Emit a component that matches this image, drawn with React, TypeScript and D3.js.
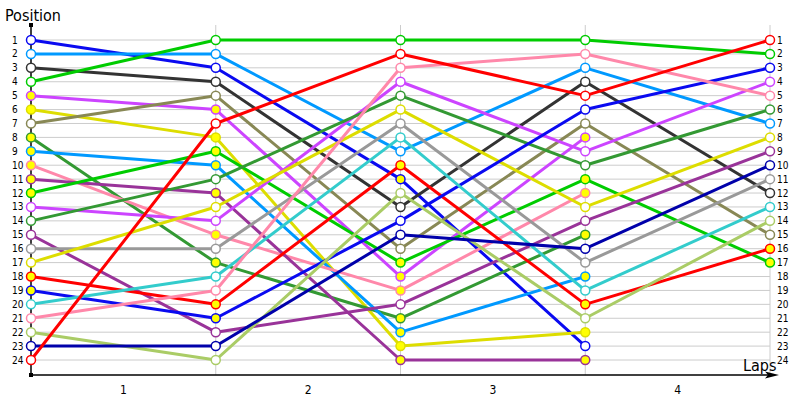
import React, { useEffect, useRef } from 'react';
import * as d3 from 'd3';

// lap labels shown between the lap lines
const lapLabels = ['1', '2', '3', '4'];
const positionTicks = [1, 2, 3, 4, 5, 6, 7, 8, 9, 10, 11, 12, 13, 14, 15, 16, 17, 18, 19, 20, 21, 22, 23, 24];

// one colour per driver, in grid order
const driverColors = [
  '#0a0af0', '#0099ff', '#333333', '#00cc00', '#cc44ff', '#dddd00',
  '#888855', '#339933', '#0099ff', '#ff88aa', '#993399', '#00cc00',
  '#cc44ff', '#339933', '#993399', '#999999', '#dddd00', '#ff0000',
  '#0a0af0', '#33cccc', '#ff88aa', '#aacc66', '#0000aa', '#ff0000',
];

// position of each driver (grid order) after every lap, null = retired
const startGrid = [1, 2, 3, 4, 5, 6, 7, 8, 9, 10, 11, 12, 13, 14, 15, 16, 17, 18, 19, 20, 21, 22, 23, 24];
const afterLap1 = [3, 2, 4, 1, 6, 8, 5, 17, 10, 15, 12, 9, 14, 11, 22, 16, 13, 20, 21, 18, 19, 24, 23, 7];
const afterLap2 = [11, 9, 13, 1, 18, 23, 16, 21, 22, 19, 24, 17, 4, 5, 20, 7, 6, 10, 14, 8, 3, 12, 15, 2];
const afterLap3 = [23, 3, 4, 1, 8, 22, 7, 15, 18, 12, 24, 11, 9, 10, 14, 17, 13, 20, 6, 19, 2, 21, 16, 5];
const afterLap4 = [null, 7, 12, 2, null, null, 15, null, null, null, null, 17, 4, 6, 9, 11, 8, 16, 3, 13, 5, 14, 10, 1];

// positions marked with a yellow (pit) marker at each lap
const pitStart = [5, 6, 8, 9, 10, 11, 12, 18, 19];
const pitLap1 = [6, 8, 9, 10, 12, 15, 17, 20, 21];
const pitLap2 = [10, 11, 17, 18, 19, 21, 22, 23, 24];
const pitLap3 = [8, 11, 12, 15, 18, 20, 22, 24];
const pitLap4 = [16, 17];

const laps = [startGrid, afterLap1, afterLap2, afterLap3, afterLap4];
const pits = [pitStart, pitLap1, pitLap2, pitLap3, pitLap4];

interface Pt {
  lap: number;
  pos: number;
}

const PositionChart: React.FC = () => {
  const svgRef = useRef<SVGSVGElement>(null);

  useEffect(() => {
    if (!svgRef.current) return;
    d3.select(svgRef.current).selectAll('*').remove();

    const svg = d3.select(svgRef.current).attr('width', 800).attr('height', 400);
    const font = '"DejaVu Sans Condensed", "DejaVu Sans", sans-serif';

    const x = d3.scaleLinear().domain([0, 4]).range([31, 770]);
    const y = d3.scaleLinear().domain([1, 24]).range([40, 360]);
    const axisTop = 25;
    const axisBottom = 375;

    // grid
    svg
      .append('g')
      .selectAll('line')
      .data(positionTicks)
      .join('line')
      .attr('x1', x(0))
      .attr('x2', x(4))
      .attr('y1', d => y(d))
      .attr('y2', d => y(d))
      .attr('stroke', '#cccccc')
      .attr('stroke-width', 1);

    svg
      .append('g')
      .selectAll('line')
      .data([1, 2, 3, 4])
      .join('line')
      .attr('x1', d => x(d))
      .attr('x2', d => x(d))
      .attr('y1', axisTop)
      .attr('y2', axisBottom)
      .attr('stroke', '#cccccc')
      .attr('stroke-width', 1);

    // axes
    svg
      .append('line')
      .attr('x1', x(0))
      .attr('x2', x(0))
      .attr('y1', axisTop)
      .attr('y2', axisBottom)
      .attr('stroke', '#000')
      .attr('stroke-width', 1.5);
    svg.append('rect').attr('x', x(0) - 2).attr('y', axisTop - 2).attr('width', 4).attr('height', 4).attr('fill', '#000');
    svg.append('rect').attr('x', x(0) - 2).attr('y', axisBottom - 2).attr('width', 4).attr('height', 4).attr('fill', '#000');

    svg
      .append('line')
      .attr('x1', x(0))
      .attr('x2', 772)
      .attr('y1', axisBottom)
      .attr('y2', axisBottom)
      .attr('stroke', '#000')
      .attr('stroke-width', 1.5);
    svg
      .append('path')
      .attr('d', `M765,${axisBottom - 3.5} L779,${axisBottom} L765,${axisBottom + 3.5} L768,${axisBottom} Z`)
      .attr('fill', '#000');

    // tick labels
    svg
      .append('g')
      .selectAll('text')
      .data(positionTicks)
      .join('text')
      .attr('x', 12)
      .attr('y', d => y(d) + 3.5)
      .attr('font-family', font)
      .attr('font-size', 10)
      .attr('fill', '#000')
      .text(d => d);

    svg
      .append('g')
      .selectAll('text')
      .data(positionTicks)
      .join('text')
      .attr('x', 777)
      .attr('y', d => y(d) + 3.5)
      .attr('font-family', font)
      .attr('font-size', 10)
      .attr('fill', '#000')
      .text(d => d);

    svg
      .append('g')
      .selectAll('text')
      .data(lapLabels)
      .join('text')
      .attr('x', (d, i) => (x(i) + x(i + 1)) / 2)
      .attr('y', 394)
      .attr('text-anchor', 'middle')
      .attr('font-family', font)
      .attr('font-size', 12)
      .attr('fill', '#000')
      .text(d => d);

    svg
      .append('text')
      .attr('x', 5)
      .attr('y', 21)
      .attr('font-family', font)
      .attr('font-size', 16)
      .attr('fill', '#000')
      .text('Position');

    svg
      .append('text')
      .attr('x', 743)
      .attr('y', 371)
      .attr('font-family', font)
      .attr('font-size', 16)
      .attr('fill', '#000')
      .text('Laps');

    // driver paths
    const paths: Pt[][] = driverColors.map((_, d) =>
      laps
        .map((lap, i) => ({ lap: i, pos: lap[d] as number | null }))
        .filter(p => p.pos != null) as Pt[]
    );

    const line = d3
      .line<Pt>()
      .x(p => x(p.lap))
      .y(p => y(p.pos));

    svg
      .append('g')
      .selectAll('path')
      .data(paths)
      .join('path')
      .attr('d', d => line(d))
      .attr('fill', 'none')
      .attr('stroke', (d, i) => driverColors[i])
      .attr('stroke-width', 3)
      .attr('stroke-linejoin', 'round');

    const markers = paths.flatMap((pts, i) => pts.map(p => ({ ...p, color: driverColors[i] })));

    svg
      .append('g')
      .selectAll('circle')
      .data(markers)
      .join('circle')
      .attr('cx', m => x(m.lap))
      .attr('cy', m => y(m.pos))
      .attr('r', 4.5)
      .attr('fill', m => (pits[m.lap].includes(m.pos) ? '#ffff00' : '#ffffff'))
      .attr('stroke', m => m.color)
      .attr('stroke-width', 1.5);
  }, []);

  return <svg ref={svgRef} style={{ position: 'absolute', left: 0, top: 0 }}></svg>;
};

export default function App() {
  return <PositionChart />;
}
